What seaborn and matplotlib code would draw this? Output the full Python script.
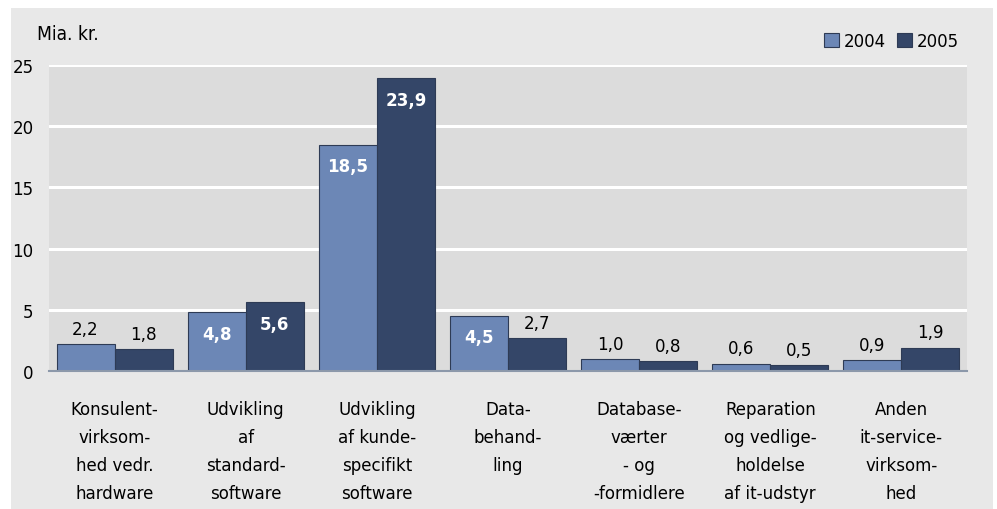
import matplotlib
matplotlib.use("Agg")
import matplotlib.pyplot as plt
import seaborn as sns
import pandas as pd
from matplotlib.patches import Patch
from matplotlib import font_manager

categories = [
    "Konsulent-\nvirksom-\nhed vedr.\nhardware",
    "Udvikling\naf\nstandard-\nsoftware",
    "Udvikling\naf kunde-\nspecifikt\nsoftware",
    "Data-\nbehand-\nling",
    "Database-\nværter\n- og\n-formidlere",
    "Reparation\nog vedlige-\nholdelse\naf it-udstyr",
    "Anden\nit-service-\nvirksom-\nhed",
]
years = ["2004", "2005"]
values_2004 = [2.2, 4.8, 18.5, 4.5, 1.0, 0.6, 0.9]
values_2005 = [1.8, 5.6, 23.9, 2.7, 0.8, 0.5, 1.9]
yticks = [0, 5, 10, 15, 20, 25]

sns.set_theme(style="white")
names = {f.name for f in font_manager.fontManager.ttflist}
fam = ["Liberation Sans Narrow"] if "Liberation Sans Narrow" in names else []
plt.rcParams["font.family"] = fam + ["DejaVu Sans"]
plt.rcParams["font.stretch"] = "condensed"
plt.rcParams["text.color"] = "black"
FS = 13.3

df = pd.DataFrame({
    "cat": categories * 2,
    "year": [years[0]] * len(categories) + [years[1]] * len(categories),
    "val": values_2004 + values_2005,
})

W, H = 997, 510
fig = plt.figure(figsize=(W / 100, H / 100), dpi=100)
fig.patch.set_facecolor("white")
bg = fig.add_axes([11 / W, 0, (993 - 11) / W, 1 - 9 / H], zorder=-10)
bg.set_facecolor("#e8e8e8")
bg.set_xticks([])
bg.set_yticks([])
for sp in bg.spines.values():
    sp.set_visible(False)

ax = fig.add_axes([49 / W, 1 - 372 / H, (967 - 49) / W, (372 - 66) / H], zorder=1)
ax.set_facecolor("#dcdcdc")
colors = {"2004": "#6c87b6", "2005": "#344668"}
sns.barplot(data=df, x="cat", y="val", hue="year", palette=colors,
            width=0.885, gap=0, ax=ax, edgecolor="#2e3b55", linewidth=0.8,
            legend=False, saturation=1)

ax.set_ylim(0, 25)
ax.set_xlim(-0.5, len(categories) - 0.5)
ax.set_yticks(yticks)
ax.set_yticklabels([str(t) for t in yticks], fontsize=FS, color="black")
ax.yaxis.grid(True, color="white", linewidth=2.2)
ax.set_axisbelow(True)
for sp in ["top", "right", "left"]:
    ax.spines[sp].set_visible(False)
ax.spines["bottom"].set_color("#8c98aa")
ax.spines["bottom"].set_linewidth(1.5)
ax.tick_params(axis="y", length=0, pad=11)
ax.tick_params(axis="x", length=0, pad=21)
ax.set_xticks(range(len(categories)))
ax.set_xticklabels(categories, fontsize=FS, linespacing=1.7, va="top", color="black")
ax.set_xlabel("")
ax.set_ylabel("")

for cont in ax.containers:
    for bar in cont:
        v = bar.get_height()
        x = bar.get_x() + bar.get_width() / 2
        lab = f"{v:.1f}".replace(".", ",")
        if v > 4:
            ax.annotate(lab, (x, v), xytext=(0, -9), textcoords="offset points",
                        ha="center", va="top", color="white", fontsize=FS,
                        fontweight="bold")
        else:
            ax.annotate(lab, (x, v), xytext=(0, 4.5), textcoords="offset points",
                        ha="center", va="bottom", color="black", fontsize=FS)

fig.text(37 / W, 1 - 35 / H, "Mia. kr.", fontsize=FS + 0.5, va="center", ha="left")
handles = [Patch(facecolor=colors[y], edgecolor="#2e3b55", linewidth=0.8) for y in years]
fig.legend(handles, years, loc="center right", bbox_to_anchor=(966 / W, 1 - 42 / H),
           ncol=2, frameon=False, fontsize=FS, handlelength=0.8, handleheight=0.8,
           handletextpad=0.25, columnspacing=0.6, borderaxespad=0)

fig.savefig("out.png", dpi=100)
